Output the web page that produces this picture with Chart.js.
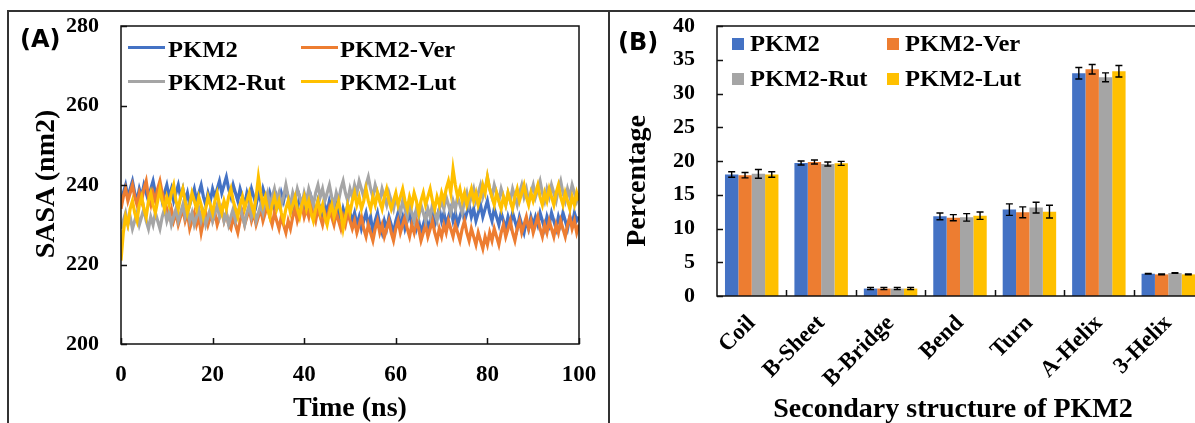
<!DOCTYPE html>
<html>
<head>
<meta charset="utf-8">
<script src="https://cdn.jsdelivr.net/npm/chart.js@4.4.0/dist/chart.umd.min.js"></script>
<style>
  html, body { margin: 0; padding: 0; background: #fff; }
  body { width: 1195px; height: 423px; overflow: hidden; position: relative;
         font-family: 'Liberation Serif', 'Times New Roman', serif; font-weight: bold; color: #000; }
  .frame { position: absolute; left: 7px; top: 10px; width: 1300px; height: 500px;
           border-left: 2px solid #333; border-top: 2px solid #333; }
  .divider { position: absolute; left: 608px; top: 10px; width: 2px; height: 420px; background: #333; }
  .box { position: absolute; }
  #boxA { left: 10px; top: 12px; width: 592px; height: 411px; }
  #boxB { left: 612px; top: 12px; width: 600px; height: 411px; }
  .panel { position: absolute; font-family: 'DejaVu Sans', sans-serif; font-weight: bold;
           font-size: 24px; line-height: 24px; }
  .title { position: absolute; font-size: 28px; line-height: 28px; white-space: nowrap; }
  .rot { transform: translate(-50%, -50%) rotate(-90deg); }
  .ctr { transform: translateX(-50%); }
  .leg { position: absolute; font-size: 23px; line-height: 22px; white-space: nowrap;
         transform-origin: left center; transform: scaleX(1.07); }
  .line { position: absolute; height: 3px; width: 37px; }
  .sq { position: absolute; width: 12px; height: 12px; }
</style>
</head>
<body>
<div class="frame"></div>
<div class="divider"></div>

<div class="box" id="boxA"><canvas id="chartA"></canvas></div>
<div class="box" id="boxB"><canvas id="chartB"></canvas></div>

<div class="panel" style="left:20px; top:27px;">(A)</div>
<div class="panel" style="left:618px; top:30px;">(B)</div>

<div class="title rot" style="left:45px; top:184px;">SASA (nm2)</div>
<div class="title ctr" style="left:350px; top:393px;">Time (ns)</div>
<div class="title rot" style="left:636px; top:181px;">Percentage</div>
<div class="title ctr" style="left:953px; top:394px;">Secondary structure of PKM2</div>

<div id="legendA"></div>
<div id="legendB"></div>

<script>
// ---- panel A : SASA over time (one value every 0.5 ns, 0..100 ns)
const timeStepNs = 0.5
const seriesNames = ['PKM2', 'PKM2-Ver', 'PKM2-Rut', 'PKM2-Lut']
const seriesColors = ['#4472C4', '#ED7D31', '#A5A5A5', '#FFC000']

const sasaPKM2 = [
  236, 238, 240, 237, 239, 241, 238, 236, 239, 237, 240, 238, 236, 239, 241, 238, 237, 239, 236, 238, 240,
  237, 239, 236, 238, 240, 237, 239, 236, 238, 235, 237, 239, 236, 238, 240, 237, 235, 238, 236, 239,
  237, 239, 241, 238, 240, 242, 239, 237, 240, 238, 236, 239, 237, 235, 238, 236, 239, 237, 235, 238,
  236, 239, 237, 235, 238, 236, 234, 237, 235, 238, 236, 239, 237, 235, 233, 236, 234, 237, 235, 233,
  236, 234, 237, 235, 233, 236, 234, 232, 235, 233, 236, 234, 232, 235, 233, 231, 234, 232, 235, 233,
  231, 233, 230, 232, 229, 231, 233, 230, 232, 228, 231, 233, 230, 228, 231, 229, 232, 230, 228, 231,
  233, 230, 232, 229, 231, 233, 230, 232, 229, 231, 228, 230, 232, 229, 231, 233, 230, 232, 234, 231,
  233, 230, 232, 234, 231, 233, 230, 232, 234, 231, 233, 235, 232, 234, 231, 233, 235, 232, 234, 236,
  233, 231, 234, 232, 230, 233, 231, 229, 232, 230, 233, 231, 229, 232, 230, 228, 231, 229, 232, 230,
  232, 230, 233, 231, 229, 232, 230, 233, 231, 229, 232, 230, 233, 231, 229, 232, 230, 233, 231, 232
]
const sasaVer = [
  234, 237, 239, 236, 238, 240, 237, 235, 238, 236, 239, 241, 237, 235, 238, 236, 239, 241, 238, 236, 234,
  232, 234, 231, 233, 230, 232, 234, 231, 233, 229, 231, 233, 230, 232, 228, 231, 233, 230, 232, 231,
  233, 230, 232, 234, 231, 233, 230, 229, 232, 230, 228, 231, 233, 230, 232, 234, 231, 233, 230, 232,
  234, 231, 233, 235, 232, 230, 233, 231, 229, 232, 230, 228, 231, 229, 232, 234, 231, 233, 235, 232,
  234, 232, 235, 233, 231, 234, 232, 230, 233, 231, 234, 232, 230, 233, 231, 229, 232, 230, 233, 231,
  229, 231, 228, 230, 232, 229, 227, 230, 228, 226, 229, 231, 228, 230, 227, 229, 231, 228, 226, 229,
  231, 228, 230, 232, 229, 227, 230, 228, 231, 229, 226, 228, 230, 227, 229, 231, 228, 226, 229, 227,
  230, 228, 231, 229, 227, 230, 228, 226, 229, 231, 228, 226, 229, 227, 225, 228, 226, 224, 227, 225,
  228, 226, 229, 227, 225, 228, 230, 227, 229, 231, 228, 226, 229, 231, 228, 230, 232, 229, 231, 228,
  230, 232, 229, 227, 230, 228, 231, 229, 227, 230, 228, 231, 229, 227, 230, 232, 229, 231, 228, 230
]
const sasaRut = [
  229, 231, 233, 230, 232, 229, 231, 233, 230, 232, 234, 231, 229, 232, 230, 233, 231, 229, 232, 234, 231,
  233, 230, 232, 234, 231, 233, 235, 232, 234, 231, 233, 230, 232, 234, 231, 233, 230, 232, 234, 231,
  233, 235, 232, 234, 231, 233, 230, 232, 234, 231, 233, 235, 232, 230, 233, 235, 232, 234, 231, 233,
  235, 233, 236, 238, 235, 237, 239, 236, 238, 235, 237, 240, 237, 235, 238, 236, 239, 237, 235, 238,
  236, 239, 237, 235, 238, 240, 237, 239, 236, 238, 240, 237, 235, 238, 236, 239, 241, 238, 236, 239,
  237, 240, 238, 241, 239, 237, 240, 242, 239, 237, 240, 238, 236, 239, 237, 235, 238, 236, 234, 237,
  235, 233, 236, 234, 232, 235, 233, 231, 234, 232, 235, 233, 231, 234, 232, 235, 233, 231, 234, 236,
  234, 237, 235, 233, 236, 234, 237, 235, 233, 236, 238, 235, 237, 239, 236, 238, 240, 237, 239, 242,
  239, 237, 240, 238, 236, 239, 237, 235, 238, 236, 239, 237, 235, 238, 240, 237, 239, 236, 238, 240,
  237, 239, 241, 238, 236, 239, 237, 240, 238, 236, 239, 241, 238, 236, 239, 237, 240, 238, 236, 238
]
const sasaLut = [
  221, 228, 232, 230, 234, 236, 233, 231, 235, 237, 234, 232, 236, 238, 235, 233, 236, 239, 236, 234, 237,
  235, 238, 240, 236, 234, 237, 239, 236, 233, 235, 238, 236, 234, 237, 235, 232, 234, 237, 235, 233,
  236, 238, 235, 233, 236, 234, 237, 239, 236, 234, 232, 235, 237, 234, 236, 238, 235, 233, 237, 242,
  238, 235, 237, 234, 232, 235, 237, 234, 236, 233, 231, 234, 236, 233, 235, 237, 234, 232, 235, 237,
  234, 236, 233, 231, 234, 236, 233, 235, 232, 230, 233, 235, 232, 234, 236, 233, 229, 232, 235, 233,
  236, 238, 235, 237, 234, 236, 239, 236, 234, 237, 235, 238, 236, 234, 237, 239, 236, 234, 236, 238,
  235, 237, 239, 236, 234, 237, 235, 238, 236, 233, 236, 238, 235, 237, 239, 236, 234, 237, 235, 238,
  236, 239, 241, 238, 244, 240, 237, 239, 236, 238, 235, 237, 239, 236, 238, 235, 237, 240, 238, 242,
  239, 237, 235, 238, 236, 234, 237, 235, 238, 236, 234, 237, 239, 236, 238, 240, 237, 235, 238, 236,
  238, 240, 237, 235, 238, 236, 239, 237, 235, 238, 240, 237, 235, 238, 236, 234, 237, 235, 238, 236
]
const sasaTicks = [200, 220, 240, 260, 280]
const timeTicks = [0, 20, 40, 60, 80, 100]

// ---- panel B : secondary structure percentages with error bars
const structures = ['Coil', 'B-Sheet', 'B-Bridge', 'Bend', 'Turn', 'A-Helix', '3-Helix']
const pctPKM2 = [18.0, 19.7, 1.1, 11.8, 12.8, 33.0, 3.3]
const pctVer  = [17.9, 19.85, 1.1, 11.6, 12.4, 33.6, 3.2]
const pctRut  = [18.1, 19.55, 1.1, 11.65, 13.1, 32.4, 3.4]
const pctLut  = [18.0, 19.65, 1.1, 11.9, 12.5, 33.3, 3.2]
const errPKM2 = [0.4, 0.3, 0.15, 0.5, 0.85, 0.85, 0.05]
const errVer  = [0.4, 0.3, 0.15, 0.45, 0.8, 0.7, 0.05]
const errRut  = [0.65, 0.3, 0.15, 0.55, 0.8, 0.65, 0.05]
const errLut  = [0.4, 0.3, 0.15, 0.55, 0.95, 0.85, 0.05]
const pctTicks = [0, 5, 10, 15, 20, 25, 30, 35, 40]


Chart.defaults.font.family = "'Liberation Serif', 'Times New Roman', serif"
Chart.defaults.font.weight = 'bold'
Chart.defaults.font.size = 22
Chart.defaults.color = '#000'

// frame around the plot area + small inward tick marks, like the Excel original
const frameTicks = {
    id: 'frameTicks',
    afterDraw(chart, args, opts) {
        const ctx = chart.ctx
        const a = chart.chartArea
        const x = chart.scales.x, y = chart.scales.y
        const len = 6
        ctx.save()
        ctx.strokeStyle = '#111'
        ctx.lineWidth = 1.5
        ctx.strokeRect(a.left, a.top, a.right - a.left, a.bottom - a.top)
        ctx.beginPath()
        y.ticks.forEach((t, i) => {
            const py = Math.round(y.getPixelForTick(i)) + 0.5
            ctx.moveTo(a.left, py)
            ctx.lineTo(a.left + len, py)
        })
        if (opts.between) {
            for (let i = 1; i < x.ticks.length; i++) {
                const px = Math.round((x.getPixelForTick(i - 1) + x.getPixelForTick(i)) / 2) + 0.5
                ctx.moveTo(px, a.bottom)
                ctx.lineTo(px, a.bottom - len)
            }
        } else {
            x.ticks.forEach((t, i) => {
                const px = Math.round(x.getPixelForTick(i)) + 0.5
                ctx.moveTo(px, a.bottom)
                ctx.lineTo(px, a.bottom - len)
            })
        }
        ctx.stroke()
        ctx.restore()
    }
}

const errorBars = {
    id: 'errorBars',
    afterDatasetsDraw(chart) {
        const ctx = chart.ctx
        const y = chart.scales.y
        ctx.save()
        ctx.strokeStyle = '#000'
        ctx.lineWidth = 1.4
        chart.data.datasets.forEach((ds, i) => {
            chart.getDatasetMeta(i).data.forEach((bar, j) => {
                const v = ds.data[j], e = ds.errors[j]
                const top = y.getPixelForValue(v + e)
                const bot = y.getPixelForValue(v - e)
                ctx.beginPath()
                ctx.moveTo(bar.x, top); ctx.lineTo(bar.x, bot)
                ctx.moveTo(bar.x - 3.5, top); ctx.lineTo(bar.x + 3.5, top)
                ctx.moveTo(bar.x - 3.5, bot); ctx.lineTo(bar.x + 3.5, bot)
                ctx.stroke()
            })
        })
        ctx.restore()
    }
}

// fixed axis sizes so the plot areas land where they do in the original
function fixWidth(w) {
    return s => { s.width = w; s.paddingTop = 0; s.paddingBottom = 0 }
}
function fixHeight(h) {
    return s => { s.height = h; s.paddingLeft = 0; s.paddingRight = 0 }
}

function asPoints(values) {
    return values.map((v, i) => ({ x: i * timeStepNs, y: v }))
}

const sasaSeries = [sasaPKM2, sasaVer, sasaRut, sasaLut]
new Chart(document.getElementById('chartA'), {
    type: 'line',
    data: {
        datasets: sasaSeries.map((vals, i) => ({
            label: seriesNames[i],
            data: asPoints(vals),
            borderColor: seriesColors[i],
            backgroundColor: seriesColors[i],
            borderWidth: 3.2,
            pointRadius: 0,
            tension: 0,
            order: sasaSeries.length - 1 - i
        }))
    },
    options: {
        responsive: true,
        maintainAspectRatio: false,
        animation: false,
        devicePixelRatio: 1,
        layout: { padding: { top: 14, right: 23, left: 0, bottom: 0 } },
        plugins: { legend: { display: false }, tooltip: { enabled: false }, frameTicks: { between: false } },
        scales: {
            x: {
                type: 'linear', min: 0, max: 100,
                afterBuildTicks: s => { s.ticks = timeTicks.map(v => ({ value: v })) },
                ticks: { padding: 17, font: { size: 23 } },
                grid: { display: false, drawTicks: false },
                border: { display: false },
                afterFit: fixHeight(79)
            },
            y: {
                min: 200, max: 280,
                afterBuildTicks: s => { s.ticks = sasaTicks.map(v => ({ value: v })) },
                ticks: { padding: 22, font: { size: 22 } },
                grid: { display: false, drawTicks: false },
                border: { display: false },
                afterFit: fixWidth(111)
            }
        }
    },
    plugins: [frameTicks]
})

const pctSeries = [pctPKM2, pctVer, pctRut, pctLut]
const errSeries = [errPKM2, errVer, errRut, errLut]
new Chart(document.getElementById('chartB'), {
    type: 'bar',
    data: {
        labels: structures,
        datasets: pctSeries.map((vals, i) => ({
            label: seriesNames[i],
            data: vals,
            errors: errSeries[i],
            backgroundColor: seriesColors[i],
            borderWidth: 0,
            barPercentage: 1,
            categoryPercentage: 0.77
        }))
    },
    options: {
        responsive: true,
        maintainAspectRatio: false,
        animation: false,
        devicePixelRatio: 1,
        layout: { padding: { top: 14, right: 9, left: 0, bottom: 0 } },
        plugins: { legend: { display: false }, tooltip: { enabled: false }, frameTicks: { between: true } },
        scales: {
            x: {
                ticks: { minRotation: 45, maxRotation: 45, autoSkip: false, padding: 14, font: { size: 23 } },
                grid: { display: false, drawTicks: false },
                border: { display: false },
                afterFit: fixHeight(127)
            },
            y: {
                min: 0, max: 40,
                afterBuildTicks: s => { s.ticks = pctTicks.map(v => ({ value: v })) },
                ticks: { padding: 22, font: { size: 22 } },
                grid: { display: false, drawTicks: false },
                border: { display: false },
                afterFit: fixWidth(105)
            }
        }
    },
    plugins: [errorBars, frameTicks]
})

// legends laid out as two aligned columns, like the original
function addLegend(holder, cells, marker) {
    const el = document.getElementById(holder)
    cells.forEach((c, i) => {
        const m = document.createElement('div')
        m.className = marker
        m.style.background = seriesColors[i]
        m.style.left = c.mx + 'px'
        m.style.top = c.my + 'px'
        el.appendChild(m)
        const t = document.createElement('div')
        t.className = 'leg'
        t.textContent = seriesNames[i]
        t.style.left = c.tx + 'px'
        t.style.top = c.ty + 'px'
        el.appendChild(t)
    })
}
addLegend('legendA', [
    { mx: 128, my: 46, tx: 168, ty: 39 },
    { mx: 301, my: 46, tx: 340, ty: 39 },
    { mx: 128, my: 80, tx: 168, ty: 72 },
    { mx: 301, my: 80, tx: 340, ty: 72 }
], 'line')
addLegend('legendB', [
    { mx: 732, my: 38, tx: 750, ty: 33 },
    { mx: 887, my: 38, tx: 905, ty: 33 },
    { mx: 732, my: 73, tx: 750, ty: 68 },
    { mx: 887, my: 73, tx: 905, ty: 68 }
], 'sq')
</script>
</body>
</html>
